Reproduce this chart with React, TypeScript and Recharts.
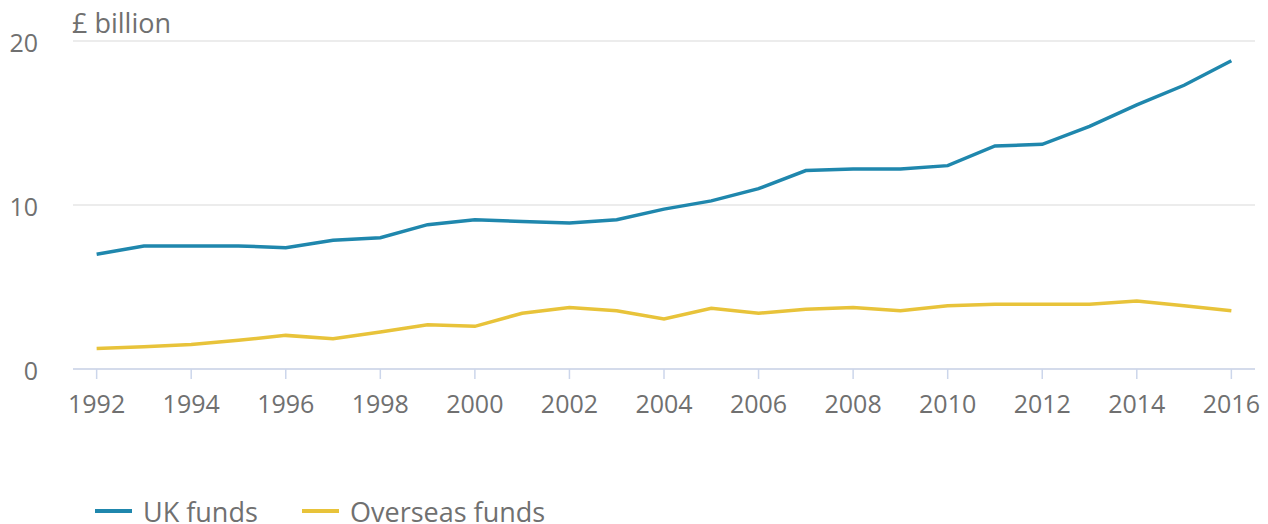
import React from 'react';
import { LineChart, Line, XAxis, YAxis, CartesianGrid, Legend } from 'recharts';

const years = [1992, 1993, 1994, 1995, 1996, 1997, 1998, 1999, 2000, 2001, 2002, 2003, 2004, 2005, 2006, 2007, 2008, 2009, 2010, 2011, 2012, 2013, 2014, 2015, 2016];
const ukFunds = [7.0, 7.5, 7.5, 7.5, 7.4, 7.85, 8.0, 8.8, 9.1, 9.0, 8.9, 9.1, 9.75, 10.25, 11.0, 12.1, 12.2, 12.2, 12.4, 13.6, 13.7, 14.8, 16.1, 17.3, 18.8];
const overseasFunds = [1.25, 1.35, 1.5, 1.75, 2.05, 1.85, 2.25, 2.7, 2.6, 3.4, 3.75, 3.55, 3.05, 3.7, 3.4, 3.65, 3.75, 3.55, 3.85, 3.95, 3.95, 3.95, 4.15, 3.85, 3.55];
const xTicks = [1992, 1994, 1996, 1998, 2000, 2002, 2004, 2006, 2008, 2010, 2012, 2014, 2016];
const yTicks = [0, 10, 20];
const seriesNames = ['UK funds', 'Overseas funds'];
const seriesColors = ['#1f87ad', '#e8c33a'];

const data = years.map((y, i) => ({ year: y, uk: ukFunds[i], overseas: overseasFunds[i] }));

const FONT = '"Open Sans", sans-serif';
const TEXT = '#707070';

const LegendContent = () => (
  <div style={{ position: 'relative', height: 0, fontFamily: FONT, fontSize: 27, color: TEXT, whiteSpace: 'nowrap' }}>
    {seriesNames.map((n, i) => (
      <div key={n} style={{ position: 'absolute', left: i === 0 ? 0 : 207, top: 0 }}>
        <div style={{ position: 'absolute', left: 0, top: 17, width: 37, height: 4, background: seriesColors[i] }} />
        <span style={{ position: 'absolute', left: 48, top: 7.5, lineHeight: '24px' }}>{n}</span>
      </div>
    ))}
  </div>
);

const YTick = (props: any) => {
  const { x, y, payload } = props;
  return (
    <text x={x} y={y} dy={11} textAnchor="end" fill={TEXT} fontSize={25} fontFamily={FONT}>
      {payload.value}
    </text>
  );
};

const XTick = (props: any) => {
  const { x, y, payload } = props;
  return (
    <text x={x} y={y} dy={28} textAnchor="middle" fill={TEXT} fontSize={25} fontFamily={FONT}>
      {payload.value}
    </text>
  );
};

export default function App() {
  return (
    <div style={{ position: 'absolute', left: 0, top: 0, background: '#fff' }}>
      <LineChart width={1268} height={524} data={data} margin={{ top: 41, right: 13, bottom: 125, left: 0 }}>
        <CartesianGrid vertical={false} stroke="#e6e6e6" strokeWidth={1.5} />
        <XAxis
          dataKey="year"
          type="number"
          domain={[1991.5, 2016.5]}
          ticks={xTicks}
          interval={0}
          axisLine={{ stroke: '#ccd6eb', strokeWidth: 1.5 }}
          tickLine={{ stroke: '#ccd6eb', strokeWidth: 1.5 }}
          tickSize={10}
          tickMargin={6}
          tick={<XTick />}
        />
        <YAxis
          type="number"
          domain={[0, 20]}
          ticks={yTicks}
          width={73}
          axisLine={false}
          tickLine={false}
          tickSize={0}
          tickMargin={35}
          tick={<YTick />}
          label={{
            content: () => (
              <text x={72} y={33} fill={TEXT} fontSize={27} fontFamily={FONT}>
                £ billion
              </text>
            ),
          }}
        />
        <Legend
          verticalAlign="bottom"
          align="left"
          content={<LegendContent />}
          wrapperStyle={{ position: 'absolute', left: 95, top: 492, bottom: 'auto', width: 0, height: 0, overflow: 'visible' }}
        />
        <Line type="linear" dataKey="uk" name={seriesNames[0]} stroke={seriesColors[0]} strokeWidth={3.5} dot={false} isAnimationActive={false} />
        <Line type="linear" dataKey="overseas" name={seriesNames[1]} stroke={seriesColors[1]} strokeWidth={3.5} dot={false} isAnimationActive={false} />
      </LineChart>
    </div>
  );
}
